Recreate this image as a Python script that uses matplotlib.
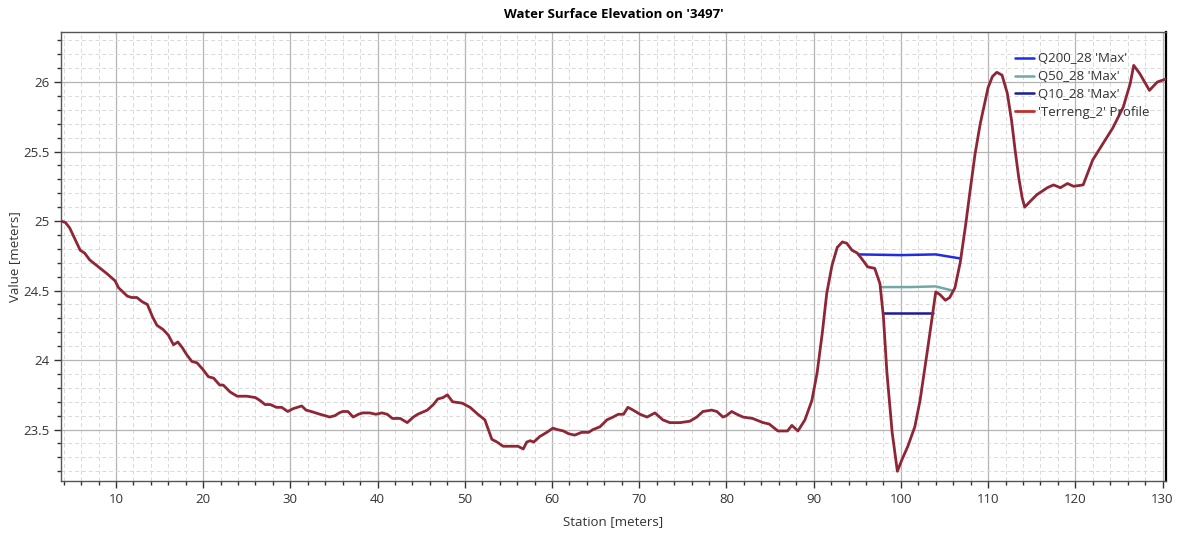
import matplotlib
matplotlib.use("Agg")
import matplotlib.pyplot as plt
from matplotlib.ticker import MultipleLocator

plt.rcParams['font.family'] = ['Open Sans', 'DejaVu Sans']

# Terrain profile
station = [3.7, 4.2, 4.7, 5.3, 5.9, 6.4, 7.0, 7.6, 8.2, 9.0, 9.9, 10.3, 10.8, 11.3, 11.8, 12.4, 13.0, 13.6,
           14.2, 14.7, 15.4, 16.0, 16.6, 17.1, 17.6, 18.1, 18.7, 19.3, 20.0, 20.6, 21.2, 21.9, 22.3, 23.1,
           23.9, 25.0, 26.0, 26.5, 27.1, 27.7, 28.4, 29.0, 29.7, 30.3, 31.3, 31.8, 32.4, 33.4, 34.0, 34.5,
           35.1, 35.6, 36.0, 36.6, 37.2, 37.8, 38.3, 39.1, 39.8, 40.5, 41.1, 41.7, 42.6, 43.4, 44.1, 44.6,
           45.7, 46.4, 46.9, 47.5, 48.0, 48.6, 49.7, 50.6, 51.5, 52.3, 52.7, 53.1, 53.7, 54.4, 55.2, 56.1,
           56.7, 57.1, 57.5, 57.9, 58.6, 59.4, 60.1, 60.6, 61.3, 61.9, 62.6, 63.4, 64.2, 64.7, 65.5, 66.3,
           67.0, 67.6, 68.2, 68.7, 69.3, 70.1, 70.9, 71.8, 72.7, 73.5, 74.7, 75.8, 76.6, 77.3, 78.3, 78.9,
           79.6, 80.0, 80.6, 81.2, 81.9, 83.0, 84.2, 84.9, 85.9, 86.5, 87.0, 87.5, 88.2, 89.0, 89.8, 90.4,
           91.0, 91.5, 92.1, 92.7, 93.3, 93.8, 94.4, 95.0, 95.5, 96.2, 97.0, 97.6, 98.0, 98.4, 99.0, 99.6,
           100.1, 100.8, 101.6, 102.2, 103.0, 103.7, 104.0, 104.5, 105.1, 105.6, 106.2, 106.8, 107.4, 107.9,
           108.5, 109.1, 110.0, 110.5, 111.0, 111.6, 112.2, 112.7, 113.1, 113.5, 113.9, 114.2, 114.8, 115.6,
           116.8, 117.5, 118.3, 119.1, 119.8, 120.9, 122.0, 123.2, 124.3, 125.5, 126.3, 126.7, 127.4, 128.5,
           129.4, 130.3, 130.6]
terrain = [25.00, 24.99, 24.95, 24.87, 24.79, 24.77, 24.72, 24.69, 24.66, 24.62, 24.57, 24.52, 24.49, 24.46,
           24.45, 24.45, 24.42, 24.40, 24.31, 24.25, 24.22, 24.18, 24.11, 24.13, 24.09, 24.04, 23.99, 23.98,
           23.93, 23.88, 23.87, 23.82, 23.82, 23.77, 23.74, 23.74, 23.73, 23.71, 23.68, 23.68, 23.66, 23.66,
           23.63, 23.65, 23.67, 23.64, 23.63, 23.61, 23.60, 23.59, 23.60, 23.62, 23.63, 23.63, 23.59, 23.61,
           23.62, 23.62, 23.61, 23.62, 23.61, 23.58, 23.58, 23.55, 23.59, 23.61, 23.64, 23.68, 23.72, 23.73,
           23.75, 23.70, 23.69, 23.66, 23.61, 23.57, 23.50, 23.43, 23.41, 23.38, 23.38, 23.38, 23.36, 23.41,
           23.42, 23.41, 23.45, 23.48, 23.51, 23.50, 23.49, 23.47, 23.46, 23.48, 23.48, 23.50, 23.52, 23.57,
           23.59, 23.61, 23.61, 23.66, 23.64, 23.61, 23.59, 23.62, 23.57, 23.55, 23.55, 23.56, 23.59, 23.63,
           23.64, 23.63, 23.59, 23.60, 23.63, 23.61, 23.59, 23.58, 23.55, 23.54, 23.49, 23.49, 23.49, 23.53,
           23.49, 23.57, 23.71, 23.91, 24.20, 24.48, 24.68, 24.81, 24.85, 24.84, 24.79, 24.77, 24.73, 24.67,
           24.66, 24.55, 24.31, 23.91, 23.48, 23.20, 23.28, 23.38, 23.52, 23.71, 24.05, 24.36, 24.49, 24.47,
           24.43, 24.45, 24.52, 24.70, 24.96, 25.20, 25.48, 25.70, 25.96, 26.04, 26.07, 26.05, 25.92, 25.72,
           25.51, 25.32, 25.17, 25.10, 25.14, 25.19, 25.24, 25.26, 25.24, 25.27, 25.25, 25.26, 25.44, 25.56,
           25.67, 25.82, 25.99, 26.12, 26.06, 25.94, 26.00, 26.02, 26.02]

# Water surface profiles
q200_station = [95.1, 100.0, 104.0, 106.9]
q200_wse = [24.76, 24.755, 24.76, 24.73]
q50_station = [97.8, 101.0, 104.0, 105.9]
q50_wse = [24.525, 24.525, 24.53, 24.50]
q10_station = [98.0, 103.7]
q10_wse = [24.34, 24.34]

labels = ["Q200_28 'Max'", "Q50_28 'Max'", "Q10_28 'Max'", "'Terreng_2' Profile"]

fig = plt.figure(figsize=(11.79, 5.33), dpi=100)
ax = fig.add_axes([61 / 1179, 1 - 481 / 533, (1166 - 61) / 1179, (481 - 32) / 533])

ax.set_xlim(3.7, 130.4)
ax.set_ylim(23.13, 26.36)

ax.xaxis.set_major_locator(MultipleLocator(10))
ax.xaxis.set_minor_locator(MultipleLocator(2))
ax.yaxis.set_major_locator(MultipleLocator(0.5))
ax.yaxis.set_minor_locator(MultipleLocator(0.1))
ax.yaxis.set_major_formatter(matplotlib.ticker.FuncFormatter(lambda v, p: f"{v:g}"))

ax.grid(which='major', color='#b4b4b4', linewidth=0.9, linestyle='-')
ax.grid(which='minor', color='#d9d9d9', linewidth=0.7, linestyle=(0, (4, 3)))
ax.set_axisbelow(True)

ax.tick_params(which='major', direction='out', length=5, width=1, color='#333333',
               labelsize=9.5, labelcolor='#333333')
ax.tick_params(which='minor', direction='out', length=3, width=1, color='#333333')

for s in ['left', 'bottom', 'top']:
    ax.spines[s].set_color('#555555')
    ax.spines[s].set_linewidth(1.0)
ax.spines['right'].set_color('#000000')
ax.spines['right'].set_linewidth(1.6)

kw = dict(solid_joinstyle='round', solid_capstyle='round')
l1, = ax.plot(q200_station, q200_wse, color='#1f2de0', lw=1.8, label=labels[0], zorder=3, **kw)
l2, = ax.plot(q50_station, q50_wse, color='#6fa9a6', lw=1.8, label=labels[1], zorder=3, **kw)
l3, = ax.plot(q10_station, q10_wse, color='#1a1a9c', lw=1.8, label=labels[2], zorder=3, **kw)
l4, = ax.plot(station, terrain, color='#8e2636', lw=2.0, label=labels[3], zorder=4, **kw)

leg = ax.legend(loc='upper right', bbox_to_anchor=(0.993, 0.975), frameon=False, fontsize=9.5,
                handlelength=1.4, handletextpad=0.3, labelspacing=0.36, borderpad=0.2)
leg.get_lines()[3].set_color('#c0302c')
for t in leg.get_texts():
    t.set_color('#333333')

ax.set_title("Water Surface Elevation on '3497'", fontsize=9.5, fontweight='bold', pad=10)
ax.set_xlabel("Station [meters]", fontsize=9.5, color='#333333', labelpad=7)
ax.set_ylabel("Value [meters]", fontsize=9.5, color='#333333', labelpad=1)

fig.savefig("out.png", dpi=100)
